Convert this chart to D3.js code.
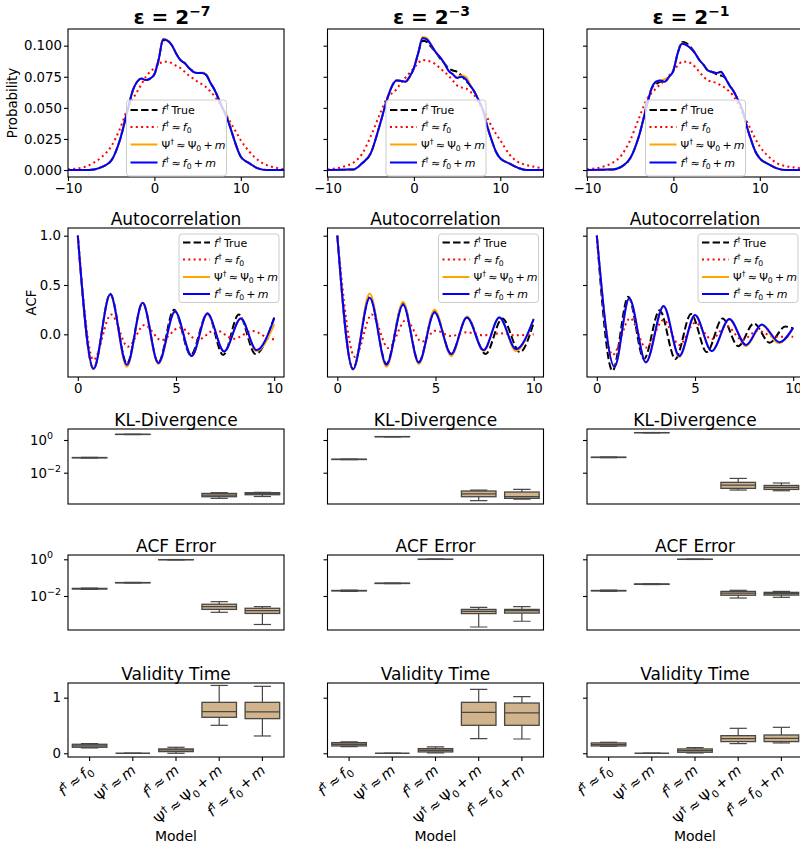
<!DOCTYPE html>
<html><head><meta charset="utf-8">
<script src="https://cdn.jsdelivr.net/npm/d3@7"></script>
<style>
body{margin:0;background:#fff}
svg{font-family:"DejaVu Sans",sans-serif}
text{white-space:pre}
</style>
</head><body>
<svg id="fig" width="800" height="851"></svg>
<script>
// ---------- data ----------
const epsilonExponents = ["−7", "−3", "−1"];
const seriesLabels = ["f^† True", "f^† ≈ f_0", "Ψ^† ≈ Ψ_0 + m", "f^† ≈ f_0 + m"];
const models = ["f^† ≈ f_0", "Ψ^† ≈ m", "f^† ≈ m", "Ψ^† ≈ Ψ_0 + m", "f^† ≈ f_0 + m"];

// stationary density grid
const densX = [-10,-8,-7,-6,-5,-4,-3,-2.5,-2,-1.5,-1,-0.5,0,0.5,1,1.5,2,2.5,3,3.5,4,4.5,5,5.5,6,6.5,7,7.5,8,8.5,9,9.5,10,11,12,13,14,15];

// eps = 2^-7
const densTrue7 = [0,0,0.0005,0.0027,0.0075,0.024,0.051,0.064,0.071,0.0735,0.0724,0.0735,0.077,0.089,0.1045,0.104,0.1005,0.094,0.0885,0.086,0.082,0.0795,0.078,0.078,0.0765,0.070,0.064,0.056,0.048,0.041,0.0295,0.019,0.0107,0.0054,0.0013,0,0,0];
const densF0_7   = [0.0005,0.0027,0.006,0.011,0.019,0.033,0.051,0.057,0.063,0.069,0.075,0.079,0.082,0.085,0.087,0.087,0.086,0.084,0.082,0.079,0.076,0.0735,0.071,0.069,0.0665,0.063,0.059,0.054,0.048,0.042,0.036,0.030,0.024,0.0147,0.008,0.004,0.0019,0.0005];
const densPsi7  = [0,0,0.0005,0.0027,0.0075,0.024,0.051,0.064,0.071,0.0735,0.0724,0.0735,0.077,0.089,0.1055,0.1045,0.1005,0.094,0.0885,0.086,0.082,0.079,0.078,0.0785,0.077,0.070,0.064,0.056,0.049,0.041,0.0295,0.019,0.0107,0.0054,0.0013,0,0,0];
const densFm7   = [0,0,0.0005,0.0027,0.0075,0.024,0.051,0.064,0.071,0.0735,0.0724,0.0735,0.077,0.089,0.105,0.104,0.1005,0.094,0.0885,0.086,0.082,0.079,0.078,0.078,0.0765,0.070,0.064,0.056,0.048,0.040,0.0295,0.019,0.0107,0.0054,0.0013,0,0,0];

// eps = 2^-3
const densTrue3 = [0,0.0003,0.0005,0.0054,0.0134,0.035,0.059,0.068,0.072,0.0716,0.071,0.075,0.082,0.094,0.104,0.103,0.099,0.095,0.090,0.086,0.082,0.080,0.079,0.076,0.072,0.068,0.063,0.056,0.048,0.035,0.024,0.0147,0.0094,0.0054,0.0019,0,0,0];
const densF0_3   = [0.0005,0.003,0.006,0.013,0.027,0.044,0.059,0.062,0.065,0.070,0.074,0.078,0.082,0.086,0.0885,0.088,0.087,0.085,0.082,0.079,0.076,0.072,0.068,0.0665,0.0657,0.063,0.060,0.054,0.048,0.042,0.035,0.029,0.024,0.013,0.0067,0.004,0.0025,0.0013];
const densPsi3  = [0,0.0003,0.0005,0.0054,0.0134,0.035,0.059,0.068,0.072,0.0716,0.071,0.075,0.082,0.094,0.107,0.106,0.1005,0.095,0.091,0.086,0.080,0.077,0.075,0.076,0.075,0.069,0.063,0.056,0.048,0.035,0.024,0.0147,0.0094,0.0054,0.0019,0,0,0];
const densFm3   = [0,0.0003,0.0005,0.0054,0.0134,0.035,0.059,0.068,0.072,0.0716,0.071,0.075,0.082,0.094,0.106,0.105,0.1005,0.095,0.091,0.086,0.080,0.077,0.074,0.075,0.073,0.068,0.063,0.056,0.048,0.035,0.024,0.0147,0.0094,0.0054,0.0019,0,0,0];

// eps = 2^-1
const densTrue1 = [0,0.0003,0.0005,0.0027,0.0094,0.027,0.054,0.066,0.069,0.071,0.071,0.075,0.080,0.094,0.103,0.102,0.099,0.094,0.0885,0.0845,0.080,0.0788,0.077,0.076,0.074,0.068,0.063,0.056,0.048,0.035,0.024,0.0147,0.0094,0.0048,0.0013,0,0,0];
const densF0_1   = [0.0005,0.003,0.006,0.012,0.024,0.0415,0.0577,0.062,0.0657,0.069,0.072,0.076,0.080,0.084,0.087,0.087,0.086,0.083,0.079,0.075,0.072,0.071,0.070,0.068,0.066,0.063,0.059,0.053,0.0456,0.039,0.032,0.025,0.019,0.011,0.0054,0.0032,0.002,0.0013];
const densPsi1  = [0,0.0003,0.0005,0.0027,0.0094,0.027,0.054,0.066,0.071,0.072,0.073,0.075,0.080,0.094,0.102,0.1005,0.098,0.094,0.0885,0.0845,0.080,0.0788,0.078,0.0785,0.074,0.068,0.063,0.056,0.048,0.035,0.024,0.0147,0.0094,0.0048,0.0013,0,0,0];
const densFm1   = [0,0.0003,0.0005,0.0027,0.0094,0.027,0.054,0.066,0.071,0.072,0.071,0.075,0.080,0.094,0.1015,0.1005,0.098,0.094,0.0885,0.0845,0.080,0.0788,0.078,0.079,0.074,0.068,0.063,0.056,0.048,0.035,0.024,0.0147,0.0094,0.0048,0.0013,0,0,0];

// autocorrelation turning points [lag, acf]
const acfTrue7 = [[0,1],[0.8,-0.35],[1.65,0.41],[2.5,-0.30],[3.3,0.32],[4.1,-0.29],[4.9,0.25],[5.75,-0.21],[6.6,0.21],[7.4,-0.21],[8.2,0.2],[9.05,-0.2],[10,0.17]];
const acfF0_7   = [[0,1],[0.8,-0.26],[1.7,0.2],[2.55,-0.125],[3.4,0.095],[4.25,-0.06],[5.2,0.07],[6.1,-0.057],[7.0,0.044],[7.95,-0.045],[8.9,0.034],[9.9,-0.05],[10,-0.048]];
const acfPsi7  = [[0,1],[0.8,-0.35],[1.65,0.40],[2.5,-0.33],[3.3,0.32],[4.1,-0.30],[4.95,0.23],[5.8,-0.22],[6.6,0.20],[7.45,-0.17],[8.3,0.16],[9.1,-0.17],[10,0.10]];
const acfFm7   = [[0,1],[0.8,-0.35],[1.65,0.405],[2.5,-0.31],[3.3,0.32],[4.1,-0.29],[4.95,0.23],[5.8,-0.22],[6.6,0.21],[7.45,-0.175],[8.3,0.16],[9.1,-0.16],[10,0.16]];

const acfTrue3 = [[0,1],[0.8,-0.35],[1.65,0.38],[2.5,-0.30],[3.35,0.31],[4.15,-0.28],[4.95,0.23],[5.8,-0.20],[6.6,0.17],[7.55,-0.20],[8.4,0.16],[9.3,-0.18],[10,0.12]];
const acfF0_3   = [[0,1],[0.9,-0.23],[1.75,0.2],[2.6,-0.14],[3.5,0.145],[4.3,-0.075],[5.0,0.037],[5.8,-0.017],[6.6,0.02],[7.4,-0.01],[8.3,0.01],[9.1,-0.01],[10,0.0]];
const acfPsi3  = [[0,1],[0.8,-0.36],[1.65,0.415],[2.5,-0.33],[3.35,0.33],[4.15,-0.30],[4.95,0.25],[5.8,-0.22],[6.6,0.18],[7.45,-0.17],[8.25,0.17],[9.1,-0.17],[10,0.16]];
const acfFm3   = [[0,1],[0.8,-0.355],[1.65,0.37],[2.5,-0.31],[3.35,0.30],[4.15,-0.285],[4.95,0.22],[5.8,-0.20],[6.6,0.17],[7.45,-0.16],[8.25,0.17],[9.1,-0.15],[10,0.155]];

const acfTrue1 = [[0,1],[0.8,-0.37],[1.6,0.38],[2.4,-0.25],[3.2,0.245],[4.0,-0.25],[4.8,0.205],[5.6,-0.18],[6.4,0.16],[7.2,-0.12],[8.0,0.11],[8.8,-0.085],[9.6,0.078],[10,0.06]];
const acfF0_1   = [[0,1],[0.8,-0.21],[1.7,0.162],[2.5,-0.135],[3.4,0.145],[4.2,-0.108],[5.0,0.118],[5.85,-0.05],[6.6,0.085],[7.4,-0.057],[8.2,0.037],[9.0,-0.024],[10,-0.024]];
const acfPsi1  = [[0,1],[0.9,-0.33],[1.65,0.36],[2.5,-0.28],[3.4,0.28],[4.2,-0.23],[5.0,0.19],[5.85,-0.17],[6.75,0.15],[7.6,-0.12],[8.4,0.095],[9.25,-0.09],[10,0.06]];
const acfFm1   = [[0,1],[0.9,-0.33],[1.65,0.365],[2.5,-0.285],[3.4,0.287],[4.2,-0.22],[5.0,0.196],[5.85,-0.17],[6.75,0.155],[7.6,-0.108],[8.4,0.10],[9.3,-0.08],[10,0.068]];

// box statistics per model: [whisker low, q1, median, q3, whisker high]; null = not available
const klBox7 = [[0.079,0.081,0.083,0.085,0.087],[2.15,2.18,2.2,2.22,2.25],null,[0.00027,0.00034,0.00043,0.00054,0.0006],[0.00035,0.00045,0.00052,0.0006,0.00063]];
const klBox3 = [[0.063,0.064,0.066,0.067,0.069],[1.56,1.58,1.6,1.62,1.64],null,[0.000195,0.00034,0.00051,0.00076,0.00087],[0.000245,0.00027,0.00034,0.00066,0.00095]];
const klBox1 = [[0.083,0.085,0.087,0.089,0.091],[2.75,2.78,2.8,2.83,2.86],null,[0.00087,0.0011,0.00174,0.00257,0.00447],[0.00079,0.00095,0.00126,0.00166,0.00234]];

const acfErrBox7 = [[0.023,0.024,0.025,0.026,0.027],[0.051,0.052,0.053,0.054,0.055],[0.93,0.94,0.95,0.96,0.97],[0.00129,0.00186,0.00263,0.00355,0.0049],[0.00028,0.00112,0.00158,0.00214,0.00263]];
const acfErrBox3 = [[0.018,0.019,0.0195,0.020,0.021],[0.047,0.048,0.049,0.050,0.051],[0.98,0.99,1.0,1.01,1.02],[0.000204,0.0011,0.00145,0.00186,0.0024],[0.00042,0.00117,0.00158,0.00186,0.00263]];
const acfErrBox1 = [[0.018,0.019,0.0195,0.020,0.021],[0.042,0.043,0.044,0.045,0.046],[0.98,0.99,1.0,1.01,1.02],[0.00776,0.011,0.0145,0.0178,0.0204],[0.0085,0.0112,0.0135,0.0158,0.0178]];

const validBox7 = [[0.096,0.108,0.132,0.162,0.174],[0,0,0,0,0],[0,0.03,0.06,0.078,0.108],[0.503,0.647,0.749,0.916,1.22],[0.311,0.623,0.743,0.916,1.204]];
const validBox3 = [[0.12,0.132,0.162,0.192,0.204],[0,0,0,0,0],[0.006,0.024,0.054,0.084,0.114],[0.263,0.503,0.737,0.916,1.15],[0.257,0.503,0.725,0.904,1.018]];
const validBox1 = [[0.126,0.132,0.156,0.186,0.198],[0,0,0,0,0],[0.006,0.018,0.048,0.078,0.102],[0.174,0.21,0.263,0.317,0.449],[0.186,0.21,0.269,0.329,0.467]];

// ---------- layout ----------
const colLeft = [68, 327.5, 587];
const panelW = 216;
const rows = [
  {top: 29, bottom: 177},
  {top: 228, bottom: 377},
  {top: 429, bottom: 504},
  {top: 555, bottom: 630},
  {top: 683, bottom: 757}
];
const TICK = 13.3;

const columns = [
  {dens: [densTrue7, densF0_7, densPsi7, densFm7], acf: [acfTrue7, acfF0_7, acfPsi7, acfFm7], kl: klBox7, err: acfErrBox7, valid: validBox7},
  {dens: [densTrue3, densF0_3, densPsi3, densFm3], acf: [acfTrue3, acfF0_3, acfPsi3, acfFm3], kl: klBox3, err: acfErrBox3, valid: validBox3},
  {dens: [densTrue1, densF0_1, densPsi1, densFm1], acf: [acfTrue1, acfF0_1, acfPsi1, acfFm1], kl: klBox1, err: acfErrBox1, valid: validBox1}
];

const lineStyles = [
  {color: "#000000", dash: "7.4,3.2"},
  {color: "#ff0000", dash: "2,3.3"},
  {color: "#ffa500", dash: null},
  {color: "#0000ff", dash: null}
];

const svg = d3.select("#fig");

// mathtext-like label: ^x / ^{..} superscript, _x subscript, f and m italic
function mathText(textSel, str, size) {
  const toks = [];
  for (let i = 0; i < str.length; i++) {
    const c = str[i];
    if (c === "^" || c === "_") {
      let t;
      if (str[i + 1] === "{") { const j = str.indexOf("}", i); t = str.slice(i + 2, j); i = j; }
      else { t = str[i + 1]; i++; }
      toks.push({t, k: c === "^" ? "sup" : "sub"});
    } else {
      const k = (c === "f" || c === "m") ? "it" : "n";
      const last = toks[toks.length - 1];
      if (last && last.k === k && k === "n") last.t += c; else toks.push({t: c, k});
    }
  }
  let shift = 0;
  toks.forEach(tok => {
    const ts = textSel.append("tspan").text(tok.t);
    const target = tok.k === "sup" ? -0.42 * size : tok.k === "sub" ? 0.22 * size : 0;
    if (target - shift !== 0) ts.attr("dy", target - shift);
    shift = target;
    if (tok.k === "sup" || tok.k === "sub") ts.attr("font-size", 0.7 * size);
    if (tok.k === "it") ts.attr("font-style", "italic");
  });
}

function frame(g, L, r) {
  g.append("rect").attr("x", L).attr("y", r.top).attr("width", panelW).attr("height", r.bottom - r.top)
    .attr("fill", "none").attr("stroke", "#000").attr("stroke-width", 1.1);
}

function styleAxis(a) {
  a.select(".domain").remove();
  a.selectAll(".tick line").attr("stroke", "#000").attr("stroke-width", 1.1);
  a.selectAll(".tick text").attr("fill", "#000").attr("font-size", TICK).attr("font-family", "DejaVu Sans");
}

function clip(id, L, r) {
  svg.append("clipPath").attr("id", id).append("rect")
    .attr("x", L).attr("y", r.top).attr("width", panelW).attr("height", r.bottom - r.top);
}

function legend(g, x, y, h, rowsY) {
  const lg = g.append("g");
  lg.append("rect").attr("x", x).attr("y", y).attr("width", 100).attr("height", h).attr("rx", 3)
    .attr("fill", "#fff").attr("fill-opacity", 0.8).attr("stroke", "#cccccc").attr("stroke-width", 1);
  seriesLabels.forEach((lab, i) => {
    const cy = y + rowsY[i];
    const st = lineStyles[i];
    lg.append("line").attr("x1", x + 4).attr("x2", x + 31).attr("y1", cy).attr("y2", cy)
      .attr("stroke", st.color).attr("stroke-width", 2).attr("stroke-dasharray", st.dash);
    const t = lg.append("text").attr("x", x + 35).attr("y", cy + 4).attr("font-size", 11)
      .attr("word-spacing", "-1.3px").attr("fill", "#000");
    mathText(t, lab, 11);
  });
}

function boxes(g, data, x, y) {
  const bw = x.bandwidth();
  data.forEach((d, i) => {
    if (!d) return;
    const cx = x(models[i]) + bw / 2;
    const [lo, q1, med, q3, hi] = d;
    const stroke = "#474747";
    const bg = g.append("g");
    bg.append("line").attr("x1", cx).attr("x2", cx).attr("y1", y(q3)).attr("y2", y(hi)).attr("stroke", stroke).attr("stroke-width", 1.2);
    bg.append("line").attr("x1", cx).attr("x2", cx).attr("y1", y(q1)).attr("y2", y(lo)).attr("stroke", stroke).attr("stroke-width", 1.2);
    bg.append("line").attr("x1", cx - bw / 4).attr("x2", cx + bw / 4).attr("y1", y(hi)).attr("y2", y(hi)).attr("stroke", stroke).attr("stroke-width", 1.2);
    bg.append("line").attr("x1", cx - bw / 4).attr("x2", cx + bw / 4).attr("y1", y(lo)).attr("y2", y(lo)).attr("stroke", stroke).attr("stroke-width", 1.2);
    bg.append("rect").attr("x", cx - bw / 2).attr("y", y(q3)).attr("width", bw).attr("height", Math.max(0, y(q1) - y(q3)))
      .attr("fill", "#d2b48c").attr("stroke", stroke).attr("stroke-width", 1.3);
    bg.append("line").attr("x1", cx - bw / 2).attr("x2", cx + bw / 2).attr("y1", y(med)).attr("y2", y(med)).attr("stroke", stroke).attr("stroke-width", 1.3);
  });
}

function logTickLabels(g, y, showLabels) {
  if (!showLabels) return;
  [[1, "0"], [0.01, "−2"]].forEach(([v, e]) => {
    const t = g.append("text").attr("x", 30).attr("y", y(v) + 5).attr("font-size", TICK).attr("fill", "#000");
    t.append("tspan").text("10");
    t.append("tspan").attr("dy", -6).attr("font-size", 9.5).text(e);
  });
}

function subTitle(g, L, r, txt) {
  g.append("text").attr("x", L + panelW / 2).attr("y", r.top - 3).attr("text-anchor", "middle")
    .attr("font-size", 17).attr("fill", "#000").text(txt);
}

columns.forEach((col, c) => {
  const L = colLeft[c];
  const g = svg.append("g");
  const first = c === 0;

  // ---- row 0: stationary density ----
  {
    const r = rows[0];
    const x = d3.scaleLinear().domain([-10, 15]).range([L, L + panelW]);
    const y = d3.scaleLinear().domain([-0.0056, 0.1134]).range([r.bottom, r.top]);
    clip("c0" + c, L, r);
    const line = d3.line().x((d, i) => x(densX[i])).y(d => y(d)).curve(d3.curveMonotoneX);
    const lg = g.append("g").attr("clip-path", `url(#c0${c})`);
    col.dens.forEach((s, i) => {
      lg.append("path").attr("d", line(s)).attr("fill", "none").attr("stroke", lineStyles[i].color)
        .attr("stroke-width", 2).attr("stroke-dasharray", lineStyles[i].dash);
    });
    const ax = g.append("g").attr("transform", `translate(0,${r.bottom})`)
      .call(d3.axisBottom(x).tickValues([-10, 0, 10]).tickFormat(d3.format("d")).tickSize(4).tickPadding(3).tickSizeOuter(0));
    styleAxis(ax);
    const ay = g.append("g").attr("transform", `translate(${L},0)`)
      .call(d3.axisLeft(y).tickValues([0, 0.025, 0.05, 0.075, 0.1]).tickFormat(first ? d3.format(".3f") : () => "").tickSize(4).tickPadding(2).tickSizeOuter(0));
    styleAxis(ay);
    frame(g, L, r);
    legend(g, L + 58.5, r.top + 71, 76, [10, 27, 44.5, 62.5]);
    // column title
    const t = g.append("text").attr("x", L + panelW / 2 - 4).attr("y", 24).attr("text-anchor", "middle")
      .attr("font-size", 20).attr("font-weight", "bold").attr("fill", "#000");
    mathText(t, "ε = 2^{" + epsilonExponents[c] + "}", 20);
    if (first) {
      g.append("text").attr("transform", `translate(17,${(r.top + r.bottom) / 2}) rotate(-90)`)
        .attr("text-anchor", "middle").attr("font-size", TICK).attr("fill", "#000").text("Probability");
    }
  }

  // ---- row 1: autocorrelation ----
  {
    const r = rows[1];
    const x = d3.scaleLinear().domain([-0.5, 10.5]).range([L, L + panelW]);
    const y = d3.scaleLinear().domain([-0.433, 1.078]).range([r.bottom, r.top]);
    clip("c1" + c, L, r);
    const line = d3.line().x(d => x(d[0])).y(d => y(d[1])).curve(d3.curveMonotoneX);
    const lg = g.append("g").attr("clip-path", `url(#c1${c})`);
    col.acf.forEach((s, i) => {
      lg.append("path").attr("d", line(s)).attr("fill", "none").attr("stroke", lineStyles[i].color)
        .attr("stroke-width", 2).attr("stroke-dasharray", lineStyles[i].dash);
    });
    const ax = g.append("g").attr("transform", `translate(0,${r.bottom})`)
      .call(d3.axisBottom(x).tickValues([0, 5, 10]).tickFormat(d3.format("d")).tickSize(4).tickPadding(3).tickSizeOuter(0));
    styleAxis(ax);
    const ay = g.append("g").attr("transform", `translate(${L},0)`)
      .call(d3.axisLeft(y).tickValues([0, 0.5, 1]).tickFormat(first ? d3.format(".1f") : () => "").tickSize(4).tickPadding(3).tickSizeOuter(0));
    styleAxis(ay);
    frame(g, L, r);
    legend(g, L + panelW - 105, r.top + 6, 68.5, [8.5, 25.5, 43, 60]);
    subTitle(g, L, r, "Autocorrelation");
    if (first) {
      g.append("text").attr("transform", `translate(36,${(r.top + r.bottom) / 2}) rotate(-90)`)
        .attr("text-anchor", "middle").attr("font-size", TICK).attr("fill", "#000").text("ACF");
    }
  }

  const xb = d3.scaleBand().domain(models).range([L, L + panelW]).paddingInner(0.2).paddingOuter(0.1);

  // ---- row 2: KL divergence ----
  {
    const r = rows[2];
    const y = d3.scaleLog().domain([Math.pow(10, -3.914), Math.pow(10, 0.673)]).range([r.bottom, r.top]);
    clip("c2" + c, L, r);
    const bg = g.append("g").attr("clip-path", `url(#c2${c})`);
    boxes(bg, col.kl, xb, y);
    const ay = g.append("g").attr("transform", `translate(${L},0)`)
      .call(d3.axisLeft(y).tickValues([0.01, 1]).tickFormat(() => "").tickSize(4).tickSizeOuter(0));
    styleAxis(ay);
    logTickLabels(g, y, first);
    frame(g, L, r);
    subTitle(g, L, r, "KL-Divergence");
  }

  // ---- row 3: ACF error ----
  {
    const r = rows[3];
    const y = d3.scaleLog().domain([Math.pow(10, -3.853), Math.pow(10, 0.234)]).range([r.bottom, r.top]);
    clip("c3" + c, L, r);
    const bg = g.append("g").attr("clip-path", `url(#c3${c})`);
    boxes(bg, col.err, xb, y);
    const ay = g.append("g").attr("transform", `translate(${L},0)`)
      .call(d3.axisLeft(y).tickValues([0.01, 1]).tickFormat(() => "").tickSize(4).tickSizeOuter(0));
    styleAxis(ay);
    logTickLabels(g, y, first);
    frame(g, L, r);
    subTitle(g, L, r, "ACF Error");
  }

  // ---- row 4: validity time ----
  {
    const r = rows[4];
    const y = d3.scaleLinear().domain([-0.067, 1.264]).range([r.bottom, r.top]);
    clip("c4" + c, L, r);
    const bg = g.append("g").attr("clip-path", `url(#c4${c})`);
    boxes(bg, col.valid, xb, y);
    const ay = g.append("g").attr("transform", `translate(${L},0)`)
      .call(d3.axisLeft(y).tickValues([0, 1]).tickFormat(first ? d3.format("d") : () => "").tickSize(4).tickPadding(3).tickSizeOuter(0));
    styleAxis(ay);
    const ax = g.append("g").attr("transform", `translate(0,${r.bottom})`)
      .call(d3.axisBottom(xb).tickFormat(() => "").tickSize(4).tickSizeOuter(0));
    styleAxis(ax);
    ax.selectAll(".tick text").remove();
    models.forEach(m => {
      const cx = xb(m) + xb.bandwidth() / 2;
      const t = g.append("text").attr("transform", `translate(${cx + 4},${r.bottom + 15}) rotate(-40)`)
        .attr("text-anchor", "end").attr("font-size", 14.5).attr("word-spacing", "-2px").attr("fill", "#000");
      mathText(t, m, 14.5);
    });
    frame(g, L, r);
    subTitle(g, L, r, "Validity Time");
    g.append("text").attr("x", L + panelW / 2).attr("y", 841).attr("text-anchor", "middle")
      .attr("font-size", 14).attr("fill", "#000").text("Model");
  }
});
</script>
</body></html>
